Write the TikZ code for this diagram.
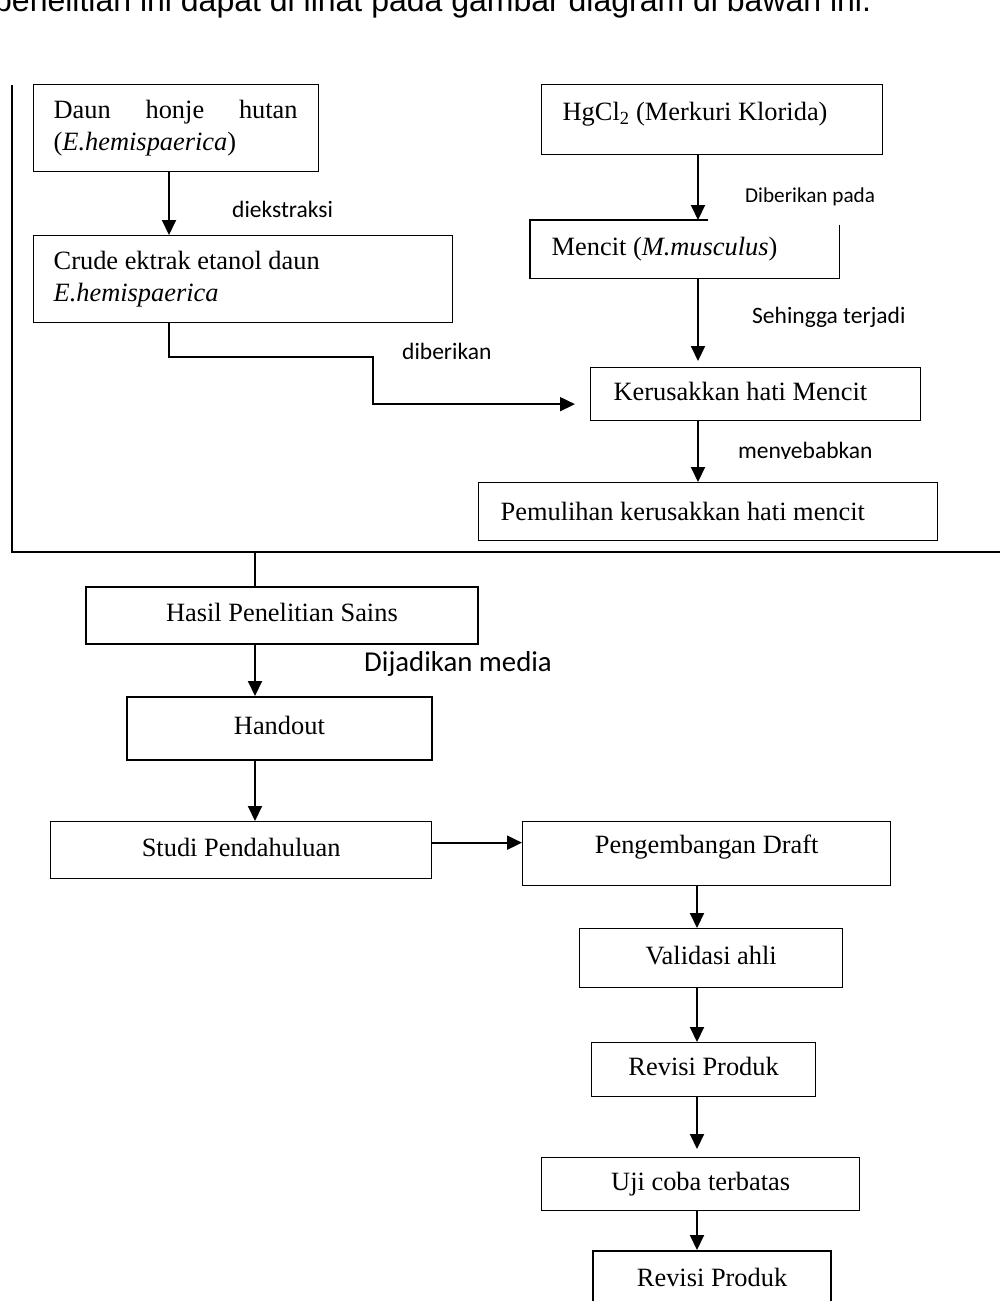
\documentclass[tikz,border=0pt]{standalone}
\usepackage{fontspec}
\setmainfont{Liberation Serif}
\newfontfamily\labelsans{Carlito}
\newfontfamily\introsans{Liberation Sans}
\usetikzlibrary{arrows.meta, positioning, calc}
\newcommand{\plainspacing}{\spaceskip=0pt\relax\xspaceskip=0pt\relax}

\begin{document}
\begin{tikzpicture}[
    x=1pt, y=-1pt,
    box/.style={rectangle, draw, line width=1.3pt, inner sep=0pt, anchor=north west, align=center, font=\fontsize{26.4}{31.5}\selectfont},
    leftbox/.style={box, align=left, inner xsep=20pt, execute at begin node=\plainspacing},
    oneline/.style={text height=18pt, text depth=6pt},
    arrow/.style={-{Triangle[length=15pt, width=14pt]}, line width=2pt},
    frame/.style={line width=1.6pt},
    tag/.style={anchor=base west, inner sep=0pt, font=\labelsans\fontsize{23.5}{28}\selectfont}
]
\useasboundingbox (0,0) rectangle (1000,1301);
\clip (0,0) rectangle (1000,1301);

% Columns
\coordinate (col-left) at (169,0);
\coordinate (col-right) at (698,0);
\coordinate (col-mid) at (255,0);
\coordinate (col-dev) at (697,0);
\coordinate (frame-top) at (12,85);
\coordinate (frame-corner) at (12,552);
\coordinate (frame-end) at (1000,552);
\coordinate (beri-bend) at (373,357);

% Intro line
\node [anchor=base west, inner sep=0pt, font=\introsans\fontsize{32}{38}\selectfont] (intro) at (-6,11) {penelitian ini dapat di lihat pada gambar diagram di bawah ini.};

% Nodes
\node [leftbox, text width=245pt, minimum height=87pt] (daun) at (33,84) {\makebox[244pt][l]{Daun\hfill honje\hfill hutan}\\(\textit{E.hemispaerica})};
\node [leftbox, text width=379pt, minimum height=87pt] (crude) at (33,235) {Crude ektrak etanol daun\\\textit{E.hemispaerica}};
\node [leftbox, oneline, text depth=16pt, inner xsep=21pt, text width=299pt, minimum height=70pt] (hgcl) at (541,84) {HgCl\textsubscript{2} (Merkuri Klorida)};
\node [leftbox, oneline, draw=none, inner xsep=21pt, text width=266pt, minimum height=57pt] (mencit) at (530,220) {Mencit (\textit{M.musculus})};
\node [leftbox, oneline, inner xsep=23pt, text width=284pt, minimum height=53pt] (kerusakkan) at (590,367) {Kerusakkan hati Mencit};
\node [leftbox, oneline, text depth=0pt, inner xsep=22pt, text width=415pt, minimum height=58pt] (pemulihan) at (478,482) {Pemulihan kerusakkan hati mencit};
\node [box, oneline, line width=1.8pt, minimum width=392pt, minimum height=57pt] (hasil) at (85,586) {Hasil Penelitian Sains};
\node [box, oneline, line width=1.8pt, minimum width=305pt, minimum height=63pt] (handout) at (126,696) {Handout};
\node [box, oneline, minimum width=381pt, minimum height=57pt] (studi) at (50,821) {Studi Pendahuluan};
\node [box, oneline, text depth=18pt, minimum width=368pt, minimum height=64pt] (draft) at (522,821) {Pengembangan Draft};
\node [box, oneline, minimum width=263pt, minimum height=59pt] (validasi) at (579,928) {Validasi ahli};
\node [box, oneline, minimum width=224pt, minimum height=54pt] (revisi-a) at (591,1042) {Revisi Produk};
\node [box, oneline, minimum width=318pt, minimum height=53pt] (uji) at (541,1157) {Uji coba terbatas};
\node [box, oneline, line width=2.2pt, minimum width=238pt, minimum height=58pt] (revisi-b) at (592,1250) {Revisi Produk};

% Open border of the mouse box
\draw [line width=1.3pt] ([xshift=178pt]mencit.north west) -- (mencit.north west) -- (mencit.south west) -- (mencit.south east) -- ([yshift=-5pt]mencit.north east);

% Frame
\draw [frame] (frame-top) -- (frame-corner) -- (frame-end);
\draw [frame] (frame-corner -| col-mid) -- (hasil.north -| col-mid);

% Arrows
\draw [arrow] (daun.south -| col-left) -- (crude.north -| col-left);
\draw [arrow] (hgcl.south -| col-right) -- (mencit.north -| col-right);
\draw [arrow, shorten >=6pt] (mencit.south -| col-right) -- (kerusakkan.north -| col-right);
\draw [arrow] (kerusakkan.south -| col-right) -- (pemulihan.north -| col-right);
\draw [arrow, line width=1.8pt, shorten >=15pt] (crude.south -| col-left) |- (beri-bend) |- ([yshift=-10pt]kerusakkan.west);
\draw [arrow] (hasil.south -| col-mid) -- (handout.north -| col-mid);
\draw [arrow] (handout.south -| col-mid) -- (studi.north -| col-mid);
\draw [arrow] ([yshift=7.5pt]studi.east) -- ([yshift=7.5pt]studi.east -| draft.west);
\draw [arrow] (draft.south -| col-dev) -- (validasi.north -| col-dev);
\draw [arrow] (validasi.south -| col-dev) -- (revisi-a.north -| col-dev);
\draw [arrow, shorten >=8pt] (revisi-a.south -| col-dev) -- (uji.north -| col-dev);
\draw [arrow] (uji.south -| col-dev) -- (revisi-b.north -| col-dev);

% Labels
\node [tag] (lbl-ekstraksi) at (232,217) {diekstraksi};
\node [tag, font=\labelsans\fontsize{21.2}{26}\selectfont] (lbl-pada) at (745,202) {Diberikan pada};
\node [tag] (lbl-terjadi) at (752,323) {Sehingga terjadi};
\node [tag] (lbl-beri) at (402,359) {diberikan};
\begin{scope}
  \clip (700,420) rectangle (900,458);
  \node [tag] (lbl-sebab) at (738,458) {menyebabkan};
\end{scope}
\node [tag, font=\labelsans\fontsize{28.8}{34}\selectfont] (lbl-media) at (364,671) {Dijadikan media};
\end{tikzpicture}
\end{document}
